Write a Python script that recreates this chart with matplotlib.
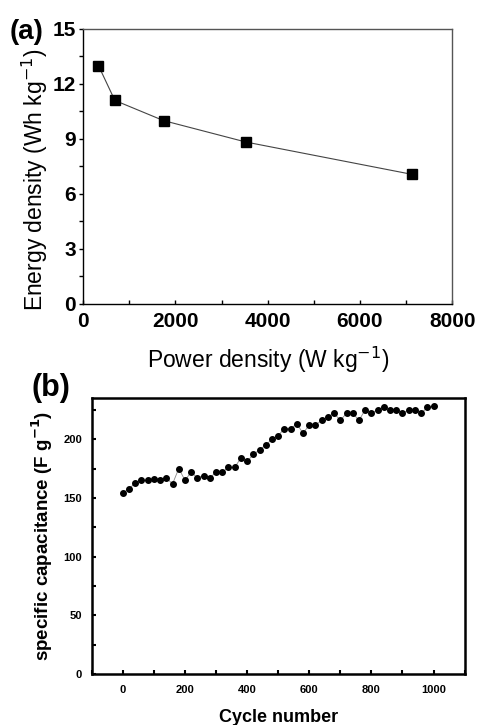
import matplotlib.pyplot as plt
from matplotlib.ticker import MultipleLocator

plt.rcParams['font.family'] = ['Liberation Sans', 'DejaVu Sans']

# (a) Ragone plot
power = [332, 687, 1742, 3527, 7118]
energy = [13.0, 11.1, 10.0, 8.83, 7.07]

# (b) cycling
cycles = [0, 20, 40, 60, 80, 100, 120, 140, 160, 180, 200, 220, 240, 260, 280,
          300, 320, 340, 360, 380, 400, 420, 440, 460, 480, 500, 520, 540, 560,
          580, 600, 620, 640, 660, 680, 700, 720, 740, 760, 780, 800, 820, 840,
          860, 880, 900, 920, 940, 960, 980, 1000]
capacitance = [154, 158, 162.5, 165, 165, 166, 165, 167, 162, 175, 165, 172, 167,
               169, 167, 172, 172, 176, 176, 184, 181, 187, 191, 195, 200, 203,
               209, 209, 213, 205, 212, 212, 216, 219, 222, 216, 222, 222, 216,
               225, 222, 225, 227, 225, 225, 222, 225, 225, 222, 227, 228]

fig = plt.figure(figsize=(4.78, 7.25), dpi=100)

# ---- panel a ----
ax1 = fig.add_axes([0.174, 0.581, 0.772, 0.379])
ax1.plot(power, energy, color='#444444', lw=0.8, marker='s', ms=7.5,
         mfc='black', mec='black')
ax1.set_xlim(0, 8000)
ax1.set_ylim(0, 15)
ax1.xaxis.set_major_locator(MultipleLocator(2000))
ax1.xaxis.set_minor_locator(MultipleLocator(1000))
ax1.yaxis.set_major_locator(MultipleLocator(3))
ax1.yaxis.set_minor_locator(MultipleLocator(1.5))
for s in ax1.spines.values():
    s.set_color('#555555')
    s.set_linewidth(1.0)
ax1.spines['left'].set_color('black')
ax1.spines['bottom'].set_color('black')
ax1.tick_params(axis='x', which='both', direction='in', length=3, width=1, pad=6)
ax1.tick_params(axis='y', which='both', direction='out', length=3, width=1, pad=2)
for lab in ax1.get_xticklabels() + ax1.get_yticklabels():
    lab.set_fontsize(15)
    lab.set_fontweight('bold')
ax1.set_xlabel('Power density (W kg$^{-1}$)', fontsize=16.5, labelpad=10)
ax1.set_ylabel('Energy density (Wh kg$^{-1}$)', fontsize=16.5)
ax1.yaxis.set_label_coords(-0.09, 0.45)
fig.text(0.02, 0.956, '(a)', fontsize=20, fontweight='bold', va='center', ha='left')

# ---- panel b ----
ax2 = fig.add_axes([0.192, 0.07, 0.780, 0.381])
ax2.plot(cycles, capacitance, color='#888888', lw=0.6, marker='o', ms=4,
         mfc='black', mec='black')
ax2.set_xlim(-100, 1100)
ax2.set_ylim(0, 235)
ax2.xaxis.set_major_locator(MultipleLocator(200))
ax2.xaxis.set_minor_locator(MultipleLocator(100))
ax2.yaxis.set_major_locator(MultipleLocator(50))
ax2.yaxis.set_minor_locator(MultipleLocator(25))
for s in ax2.spines.values():
    s.set_linewidth(1.8)
ax2.tick_params(which='both', direction='in', length=3, width=1.5)
ax2.tick_params(axis='x', pad=8)
ax2.tick_params(axis='y', pad=7)
for lab in ax2.get_xticklabels() + ax2.get_yticklabels():
    lab.set_fontsize(8)
    lab.set_fontweight('bold')
ax2.set_xlabel('Cycle number', fontsize=13, fontweight='bold', labelpad=10)
ax2.set_ylabel('specific capacitance (F g$^{\\mathbf{-1}}$)', fontsize=13.5,
               fontweight='bold', labelpad=6)
fig.text(0.065, 0.465, '(b)', fontsize=22, fontweight='bold', va='center', ha='left')

fig.savefig('out.png', dpi=100)
